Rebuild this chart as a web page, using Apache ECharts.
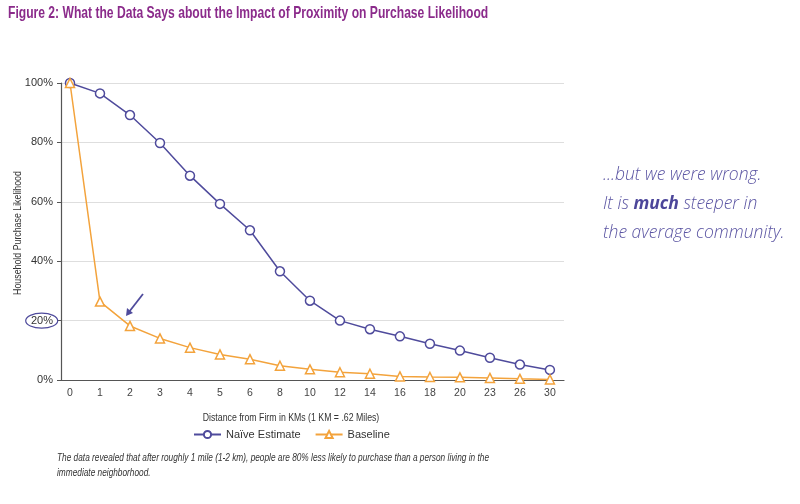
<!DOCTYPE html>
<html><head><meta charset="utf-8">
<script src="https://cdn.jsdelivr.net/npm/echarts@6/dist/echarts.min.js"></script>
<style>html,body{margin:0;padding:0;background:#fff;}#c{width:800px;height:504px;}</style>
</head><body><div id="c"></div>
<script>
var categories = ['0','1','2','3','4','5','6','8','10','12','14','16','18','20','23','26','30'];
var naiveEstimate = [100, 96.5, 89.2, 79.8, 68.8, 59.3, 50.4, 36.6, 26.7, 20.0, 17.1, 14.7, 12.2, 9.9, 7.5, 5.2, 3.4];
var baseline = [100, 26.4, 18.2, 14.0, 10.9, 8.6, 7.0, 4.8, 3.6, 2.6, 2.1, 1.2, 1.0, 0.9, 0.7, 0.4, 0.2];
var yTicks = [0, 20, 40, 60, 80, 100];

var idx = categories.map(function(_, i){ return i; });
function pairs(arr){ return arr.map(function(v,i){ return [i, v]; }); }

var purple = '#4f4b9c';
var orange = '#f3a33c';
var font = 'Liberation Sans, Roboto, sans-serif';

var chart = echarts.init(document.getElementById('c'), null, {renderer:'canvas'});
var baseGraphic = [
  {type: 'text', x: 8, y: 5, scaleX: 0.712, style: {text: 'Figure 2: What the Data Says about the Impact of Proximity on Purchase Likelihood',
    fill: '#8b2b8b', font: 'bold 17px Liberation Sans, sans-serif'}},
  {type: 'text', x: 603, y: 161, style: {
    rich: {
      n: {fontSize: 17.5, fontStyle: 'italic', fontFamily: 'Open Sans, sans-serif', fill: '#5a54a2', lineHeight: 29, fontWeight: 300},
      b: {fontSize: 17.5, fontStyle: 'italic', fontFamily: 'Open Sans, sans-serif', fontWeight: 'bold', lineHeight: 29, fill: '#4c469a'}
    },
    text: '{n|...but we were wrong.}\n{n|It is }{b|much}{n| steeper in}\n{n|the average community.}'
  }},
  {type: 'text', x: 57, y: 451, scaleX: 0.79, style: {
    text: 'The data revealed that after roughly 1 mile (1-2 km), people are 80% less likely to purchase than a person living in the\nimmediate neighborhood.',
    font: 'italic 10.5px Liberation Sans, sans-serif', fill: '#333', lineHeight: 15}},
  {type: 'text', x: 291, y: 418, scaleX: 0.76, style: {
    text: 'Distance from Firm in KMs (1 KM = .62 Miles)', font: '11.5px Liberation Sans, sans-serif', fill: '#333',
    align: 'center', verticalAlign: 'middle'}},
  {type: 'text', x: 18, y: 233, rotation: Math.PI / 2, scaleX: 0.8, style: {
    text: 'Household Purchase Likelihood', font: '11px Liberation Sans, sans-serif', fill: '#333',
    align: 'center', verticalAlign: 'middle'}},
  {type: 'ellipse', shape: {cx: 41.7, cy: 320.7, rx: 16, ry: 7.5}, style: {fill: 'none', stroke: purple, lineWidth: 1.2}, z: 10}
];
var option = {
  backgroundColor: '#fff',
  animation: false,
  textStyle: {fontFamily: font},
  grid: {left: 61, right: 236, top: 83, bottom: 124, containLabel: false},
  xAxis: {
    type: 'value', min: -0.3, max: 16.47,
    axisLine: {show: true, onZero: false, lineStyle: {color: '#555', width: 1.2}},
    axisTick: {show: false},
    splitLine: {show: false},
    axisLabel: {customValues: idx, formatter: function(v){ return categories[Math.round(v)]; }, fontSize: 10.5, color: '#444', margin: 8, fontFamily: font}
  },
  yAxis: {
    type: 'value', min: 0, max: 100, interval: 20,
    axisLine: {show: true, onZero: false, lineStyle: {color: '#555', width: 1.2}},
    axisTick: {show: true, length: 4, lineStyle: {color: '#555'}},
    axisLabel: {formatter: function(v){ return v + '%'; }, fontSize: 11, color: '#333', margin: 8, fontFamily: font},
    splitLine: {show: true, lineStyle: {color: '#dedede', width: 1}}
  },
  legend: {
    top: 424, left: 188,
    itemWidth: 27, itemHeight: 9, itemGap: 14,
    textStyle: {fontSize: 11, color: '#333', fontFamily: font},
    data: ['Naïve Estimate', 'Baseline']
  },
  series: [
    {
      name: 'Naïve Estimate', type: 'line', data: pairs(naiveEstimate),
      symbol: 'circle', symbolSize: 9,
      lineStyle: {color: purple, width: 1.5},
      itemStyle: {color: '#fff', borderColor: purple, borderWidth: 1.5},
      z: 3
    },
    {
      name: 'Baseline', type: 'line', data: pairs(baseline),
      symbol: 'triangle', symbolSize: 9,
      lineStyle: {color: orange, width: 1.5},
      itemStyle: {color: '#fff', borderColor: orange, borderWidth: 1.5},
      z: 4
    }
  ],
  graphic: baseGraphic
};
chart.setOption(option);
var p = chart.convertToPixel({gridIndex: 0}, [2, baseline[2]]);
var tip = [p[0] - 4, p[1] - 10];
chart.setOption({graphic: baseGraphic.concat([
  {type: 'line', shape: {x1: p[0] + 13, y1: p[1] - 32, x2: tip[0] + 3, y2: tip[1] - 4}, style: {stroke: purple, lineWidth: 1.8}, z: 10},
  {type: 'polygon', shape: {points: [[tip[0], tip[1]], [tip[0] + 1, tip[1] - 8], [tip[0] + 7, tip[1] - 3]]}, style: {fill: purple}, z: 10}
])});
</script></body></html>
